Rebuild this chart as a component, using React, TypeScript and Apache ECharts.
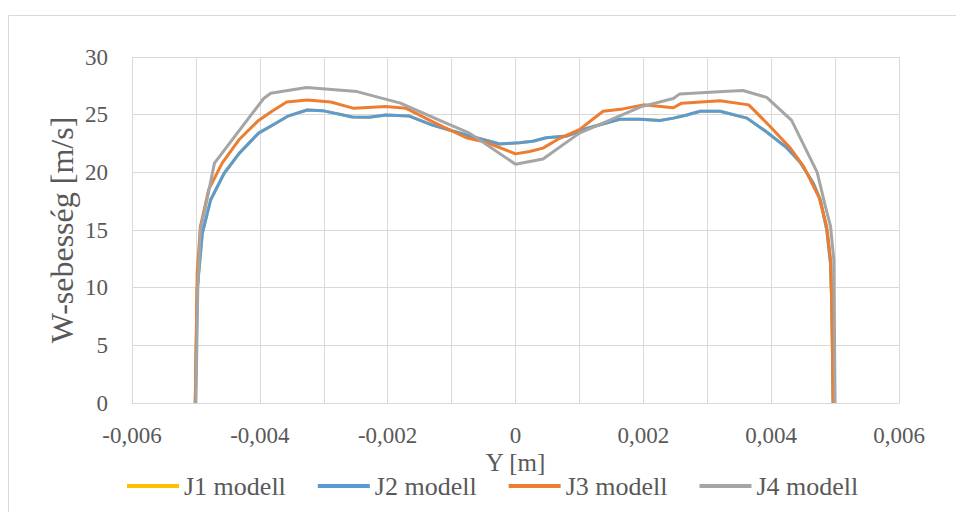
import React, { useEffect, useRef } from "react";
import * as echarts from "echarts";

// Radial position Y [m] and W velocity [m/s] for each model
const j1Y = [-0.00501, -0.00498, -0.0049, -0.00477, -0.00456, -0.00433, -0.00402, -0.00375, -0.00355, -0.00326, -0.00302, -0.00255, -0.00229, -0.00203, -0.00166, -0.0013, -0.00077, -0.00025, 0.00006, 0.00027, 0.00048, 0.0008, 0.00111, 0.00163, 0.00195, 0.00226, 0.00247, 0.00268, 0.00289, 0.0032, 0.00362, 0.00393, 0.00425, 0.00445, 0.00466, 0.00477, 0.00487, 0.00493, 0.00495, 0.00497];
const j1W = [0, 9.8, 14.7, 17.6, 19.9, 21.6, 23.4, 24.25, 24.9, 25.4, 25.35, 24.8, 24.77, 24.97, 24.88, 24.1, 23.24, 22.46, 22.57, 22.7, 23.0, 23.15, 23.8, 24.6, 24.6, 24.5, 24.7, 24.97, 25.3, 25.3, 24.7, 23.5, 22.1, 20.9, 19.05, 17.6, 15.0, 12.0, 8.0, 0];

const j2Y = [-0.00501, -0.00498, -0.0049, -0.00477, -0.00456, -0.00433, -0.00402, -0.00375, -0.00355, -0.00326, -0.00302, -0.00255, -0.00229, -0.00203, -0.00166, -0.0013, -0.00077, -0.00025, 0.00006, 0.00027, 0.00048, 0.0008, 0.00111, 0.00163, 0.00195, 0.00226, 0.00247, 0.00268, 0.00289, 0.0032, 0.00362, 0.00393, 0.00425, 0.00445, 0.00466, 0.00477, 0.00487, 0.00493, 0.00495, 0.00497];
const j2W = [0, 9.8, 14.7, 17.6, 19.9, 21.6, 23.4, 24.25, 24.9, 25.4, 25.35, 24.8, 24.77, 24.97, 24.88, 24.1, 23.24, 22.46, 22.57, 22.7, 23.0, 23.15, 23.8, 24.6, 24.6, 24.5, 24.7, 24.97, 25.3, 25.3, 24.7, 23.5, 22.1, 20.9, 19.05, 17.6, 15.0, 12.0, 8.0, 0];

const j3Y = [-0.00501, -0.00498, -0.00493, -0.0048, -0.00459, -0.00433, -0.00402, -0.00381, -0.00358, -0.00326, -0.00289, -0.00253, -0.00203, -0.00171, -0.0013, -0.00077, -0.00046, 0, 0.00022, 0.00043, 0.00069, 0.001, 0.00137, 0.00168, 0.002, 0.00247, 0.0026, 0.0032, 0.00365, 0.00398, 0.0043, 0.00451, 0.00475, 0.00487, 0.00493, 0.00495, 0.00497];
const j3W = [0, 11.3, 15.3, 18.5, 20.8, 22.8, 24.5, 25.3, 26.1, 26.27, 26.1, 25.55, 25.7, 25.55, 24.4, 23.0, 22.6, 21.6, 21.8, 22.1, 22.95, 23.7, 25.3, 25.5, 25.85, 25.6, 26.0, 26.2, 25.85, 24.0, 22.1, 20.5, 17.8, 15.3, 12.4, 8.35, 0];

const j4Y = [-0.005, -0.00497, -0.00493, -0.00485, -0.00471, -0.00394, -0.00383, -0.00327, -0.00248, -0.0018, -0.00114, -0.00072, 0, 0.00043, 0.001, 0.00197, 0.00247, 0.00257, 0.00325, 0.00356, 0.00393, 0.00432, 0.00472, 0.00485, 0.00493, 0.00498, 0.005];
const j4W = [0, 10.1, 15.0, 17.0, 20.8, 26.4, 26.85, 27.35, 27.0, 26.0, 24.4, 23.4, 20.7, 21.15, 23.4, 25.7, 26.4, 26.8, 27.0, 27.1, 26.5, 24.5, 20.0, 17.0, 15.3, 12.4, 0];

const seriesNames = ["J1 modell", "J2 modell", "J3 modell", "J4 modell"];
const seriesColors = ["#FFC000", "#5B9BD5", "#ED7D31", "#A5A5A5"];
const seriesY = [j1Y, j2Y, j3Y, j4Y];
const seriesW = [j1W, j2W, j3W, j4W];

const FONT = "Liberation Serif";
const TEXT = "#595959";
const GRID = "#d9d9d9";

const fmtX = (v: number) => {
  const k = Math.round(v * 1000);
  if (k % 2 !== 0) return "";
  if (k === 0) return "0";
  return (k / 1000).toFixed(3).replace(".", ",");
};

export default function App() {
  const ref = useRef<HTMLDivElement>(null);

  useEffect(() => {
    if (!ref.current) return;
    const chart = echarts.init(ref.current, null, { renderer: "svg" });
    chart.setOption({
      animation: false,
      backgroundColor: "#ffffff",
      textStyle: { fontFamily: FONT },
      graphic: [
        {
          type: "rect",
          shape: { x: 8.5, y: 15.5, width: 1000, height: 600 },
          style: { fill: "none", stroke: GRID, lineWidth: 1 },
          silent: true,
        },
      ],
      grid: { left: 132, right: 57, top: 57, bottom: 109 },
      legend: {
        data: seriesNames,
        left: 122,
        top: 468,
        icon: "rect",
        itemWidth: 52,
        itemHeight: 4,
        itemGap: 32,
        textStyle: { fontFamily: FONT, fontSize: 26, color: TEXT },
      },
      xAxis: {
        type: "value",
        min: -0.006,
        max: 0.006,
        interval: 0.001,
        name: "Y [m]",
        nameLocation: "middle",
        nameGap: 47,
        nameMoveOverlap: false,
        nameTextStyle: { fontFamily: FONT, fontSize: 25, color: TEXT },
        axisLine: { show: true, onZero: false, lineStyle: { color: GRID } },
        axisTick: { show: false },
        axisLabel: {
          formatter: fmtX,
          margin: 21,
          fontFamily: FONT,
          fontSize: 23,
          color: TEXT,
          showMinLabel: true,
          showMaxLabel: true,
        },
        splitLine: { show: true, lineStyle: { color: GRID, width: 1 } },
      },
      yAxis: {
        type: "value",
        min: 0,
        max: 30,
        interval: 5,
        name: "W-sebesség [m/s]",
        nameLocation: "middle",
        nameGap: 54,
        nameMoveOverlap: false,
        nameTextStyle: { fontFamily: FONT, fontSize: 32, color: TEXT },
        axisLine: { show: false },
        axisTick: { show: false },
        axisLabel: { margin: 24, fontFamily: FONT, fontSize: 23, color: TEXT },
        splitLine: { show: true, lineStyle: { color: GRID, width: 1 } },
      },
      series: seriesNames.map((name, i) => ({
        name,
        type: "line",
        showSymbol: false,
        symbol: "none",
        smooth: false,
        color: seriesColors[i],
        lineStyle: { width: 3, color: seriesColors[i], join: "round" },
        data: seriesY[i].map((y, k) => [y, seriesW[i][k]]),
      })),
    });
    return () => chart.dispose();
  }, []);

  return (
    <div
      ref={ref}
      style={{ position: "absolute", left: 0, top: 0, width: 956, height: 512 }}
    />
  );
}
